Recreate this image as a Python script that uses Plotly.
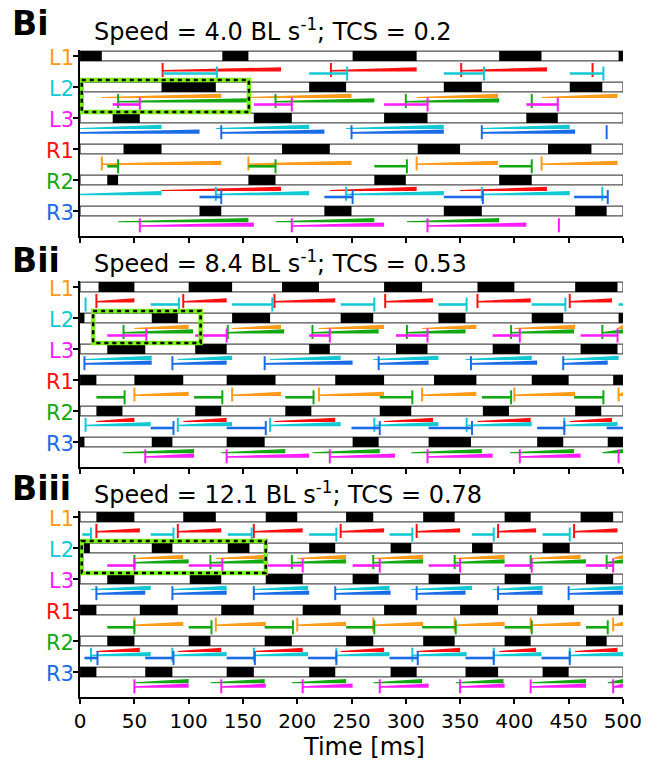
import plotly.graph_objects as go

# ---------------- data ----------------
LEGS = ["L1", "L2", "L3", "R1", "R2", "R3"]
LEG_COLORS = {"L1": "#FF9A1A", "L2": "#12C8D2", "L3": "#FF1AFF",
              "R1": "#FF1010", "R2": "#12A812", "R3": "#1A6BE6"}
PANEL_LABELS = ["Bi", "Bii", "Biii"]
SPEEDS = ["4.0", "8.4", "12.1"]
TCS_VALUES = ["0.2", "0.53", "0.78"]
X_TICKS = [0, 50, 100, 150, 200, 250, 300, 350, 400, 450, 500]
X_LABEL = "Time [ms]"
BOX_SPANS = [(1.5, 155.5), (12, 111), (1.5, 171)]

# black bar intervals (ms) per leg
BI_SWING = {
    "L1": [(0, 20), (131, 155), (251, 310), (386, 425), (496, 500)],
    "L2": [(75, 125), (211, 245), (335, 370), (451, 481)],
    "L3": [(30, 55), (160, 195), (280, 320), (411, 440)],
    "R1": [(40, 75), (186, 230), (311, 350), (431, 471)],
    "R2": [(25, 35), (155, 180), (271, 300), (386, 416)],
    "R3": [(110, 130), (225, 250), (335, 370), (456, 485)],
}
BII_SWING = {
    "L1": [(17, 50), (100, 140), (186, 220), (280, 315), (366, 400), (456, 495)],
    "L2": [(0, 4), (66, 90), (140, 175), (240, 270), (330, 355), (416, 445), (496, 500)],
    "L3": [(25, 60), (106, 135), (211, 230), (291, 320), (380, 405), (461, 495)],
    "R1": [(0, 15), (50, 95), (135, 180), (235, 280), (326, 365), (416, 450), (491, 500)],
    "R2": [(15, 39), (106, 130), (189, 213), (276, 305), (371, 395), (456, 480)],
    "R3": [(0, 4), (66, 85), (135, 170), (251, 275), (321, 360), (421, 445), (486, 500)],
}
BIII_SWING = {
    "L1": [(15, 50), (95, 125), (171, 200), (245, 270), (316, 345), (391, 415), (461, 491)],
    "L2": [(0, 9), (66, 85), (136, 156), (211, 235), (286, 305), (361, 380), (426, 451)],
    "L3": [(25, 50), (101, 130), (171, 205), (251, 275), (321, 350), (391, 415), (466, 491)],
    "R1": [(0, 15), (55, 90), (130, 160), (205, 240), (280, 310), (350, 385), (421, 455), (496, 500)],
    "R2": [(25, 50), (100, 120), (170, 195), (245, 270), (316, 345), (391, 415), (466, 485)],
    "R3": [(0, 15), (60, 85), (135, 160), (211, 235), (286, 310), (355, 385), (426, 450)],
}

# coloured interval lines between the bar rows (ms)
BI_LINES = {
    "g1_R1": [(76, 185), (231, 310), (351, 430), (472, 472)],
    "g1_L2": [(76, 126), (211, 246), (335, 372), (451, 482)],
    "g2_L1": [(20, 130), (155, 250), (310, 385), (425, 495)],
    "g2_R2": [(35, 155), (180, 271), (300, 386), (416, 416)],
    "g2_L3": [(30, 55), (160, 195), (280, 320), (411, 440)],
    "g3_L2": [(0, 75), (125, 211), (245, 335), (370, 451)],
    "g3_R3": [(0, 110), (130, 225), (250, 335), (370, 456), (485, 485)],
    "g4_L1": [(20, 130), (155, 250), (310, 385), (425, 495)],
    "g4_R2": [(25, 35), (155, 180), (271, 301), (386, 416)],
    "g5_R1": [(75, 185), (230, 310), (350, 430)],
    "g5_L2": [(0, 75), (125, 211), (245, 335), (370, 451), (481, 481)],
    "g5_R3": [(110, 130), (225, 251), (335, 371), (455, 486)],
    "g6_R2": [(35, 155), (180, 271), (301, 386)],
    "g6_L3": [(55, 160), (195, 280), (320, 411), (441, 441)],
}
BII_LINES = {
    "g1_R1": [(15, 50), (95, 135), (179, 235), (281, 325), (366, 415), (451, 490)],
    "g1_L2": [(5, 5), (65, 91), (140, 177), (240, 271), (330, 356), (416, 447), (496, 500)],
    "g2_L1": [(50, 100), (140, 185), (220, 280), (315, 365), (400, 456), (495, 500)],
    "g2_R2": [(40, 104), (136, 188), (214, 275), (301, 355), (397, 455), (481, 500)],
    "g2_L3": [(25, 61), (106, 135), (211, 230), (291, 320), (380, 405), (461, 495)],
    "g3_L2": [(4, 66), (90, 140), (175, 240), (270, 330), (355, 416), (445, 496)],
    "g3_R3": [(4, 66), (85, 135), (170, 251), (275, 321), (360, 421), (445, 486)],
    "g4_L1": [(50, 100), (140, 185), (220, 280), (315, 365), (400, 456), (496, 500)],
    "g4_R2": [(15, 41), (105, 131), (189, 215), (276, 306), (370, 397), (455, 482)],
    "g5_R1": [(15, 50), (95, 135), (179, 235), (280, 325), (366, 415), (451, 490)],
    "g5_L2": [(5, 65), (90, 140), (175, 240), (271, 330), (356, 416), (446, 495)],
    "g5_R3": [(65, 86), (135, 171), (250, 276), (321, 361), (421, 446), (485, 500)],
    "g6_R2": [(39, 105), (130, 189), (214, 276), (305, 370), (396, 455), (481, 500)],
    "g6_L3": [(60, 105), (135, 211), (230, 290), (320, 380), (405, 461), (496, 496)],
}
BIII_LINES = {
    "g1_R1": [(15, 55), (90, 130), (160, 205), (240, 280), (310, 350), (385, 420), (455, 495)],
    "g1_L2": [(2, 10), (65, 86), (136, 158), (211, 236), (285, 306), (361, 381), (426, 451)],
    "g2_L1": [(50, 95), (125, 171), (200, 245), (270, 316), (345, 391), (415, 461), (491, 500)],
    "g2_R2": [(50, 100), (120, 170), (195, 245), (270, 316), (345, 391), (415, 466), (485, 500)],
    "g2_L3": [(25, 50), (100, 131), (171, 205), (251, 276), (321, 350), (391, 416), (466, 491)],
    "g3_L2": [(10, 65), (85, 135), (160, 210), (235, 285), (305, 361), (380, 426), (451, 500)],
    "g3_R3": [(15, 60), (85, 135), (160, 211), (235, 286), (310, 355), (385, 426), (450, 500)],
    "g4_L1": [(50, 95), (125, 171), (200, 245), (270, 316), (345, 391), (415, 461), (491, 500)],
    "g4_R2": [(25, 50), (100, 121), (170, 196), (245, 271), (315, 346), (391, 416), (466, 486)],
    "g5_R1": [(15, 55), (90, 130), (160, 205), (240, 280), (310, 350), (386, 420), (456, 495)],
    "g5_L2": [(10, 65), (85, 135), (160, 210), (236, 285), (306, 356), (381, 425), (451, 500)],
    "g5_R3": [(4, 16), (60, 86), (135, 161), (210, 236), (285, 311), (355, 381), (425, 451)],
    "g6_R2": [(50, 100), (120, 170), (195, 245), (270, 315), (346, 390), (416, 466), (486, 500)],
    "g6_L3": [(50, 100), (130, 171), (205, 251), (276, 321), (350, 391), (415, 466), (491, 500)],
}

SWINGS = [BI_SWING, BII_SWING, BIII_SWING]
LINES = [BI_LINES, BII_LINES, BIII_LINES]

# ---------------- styling ----------------
W, H = 666, 760
FONT = "DejaVu Sans, Liberation Sans, Arial, sans-serif"
PX = 31.0                      # pixels per row unit
X_LEFT, X_RIGHT = 77, 641
PANEL_TOPS = [50, 281, 511]
PANEL_H = 186
Y_RANGE = [5.806, -0.194]
BAR_W = 0.32

# (key, row above gap, leg, offset px below row centre, style)
SERIES = [
    ("g1_R1", 0, "R1", 14.0, "taper_start"),
    ("g1_L2", 0, "L2", 17.5, "end"),
    ("g2_L1", 1, "L1", 9.5, "taper"),
    ("g2_R2", 1, "R2", 14.0, "taper_start"),
    ("g2_L3", 1, "L3", 17.5, "end"),
    ("g3_L2", 2, "L2", 9.5, "taper"),
    ("g3_R3", 2, "R3", 14.2, "taper_start"),
    ("g4_L1", 3, "L1", 14.5, "taper_start"),
    ("g4_R2", 3, "R2", 17.3, "end"),
    ("g5_R1", 4, "R1", 9.5, "taper"),
    ("g5_L2", 4, "L2", 13.8, "taper_start"),
    ("g5_R3", 4, "R3", 17.0, "end"),
    ("g6_R2", 5, "R2", 9.7, "taper"),
    ("g6_L3", 5, "L3", 14.3, "taper_start"),
]

TITLE_CENTERS = [(23.0, 30.5), (260.5, 261.5), (488.8, 492.5)]

fig = go.Figure()
annotations = []
shapes = []

for i in range(3):
    sfx = "" if i == 0 else str(i + 1)
    xa, ya = "x" + sfx, "y" + sfx
    swing, lines = SWINGS[i], LINES[i]

    # white full-length bars
    fig.add_trace(go.Bar(orientation="h", y=list(range(6)), x=[500] * 6, base=[0] * 6,
                         width=BAR_W, marker=dict(color="white", line=dict(color="#505050", width=1.2)),
                         xaxis=xa, yaxis=ya, hoverinfo="skip", showlegend=False))
    ys, xs, bs = [], [], []
    for k, leg in enumerate(LEGS):
        for a, b in swing[leg]:
            ys.append(k); xs.append(b - a); bs.append(a)
    fig.add_trace(go.Bar(orientation="h", y=ys, x=xs, base=bs, width=BAR_W,
                         marker=dict(color="black", line=dict(width=0)),
                         xaxis=xa, yaxis=ya, hoverinfo="skip", showlegend=False))

    for key, row, leg, off, style in SERIES:
        color = LEG_COLORS[leg]
        c = row + off / PX
        segs = lines[key]
        tick_x = []
        if style.startswith("taper"):
            w0 = 1.0 if style == "taper" else 1.6
            w1 = 4.2
            yb = c + 1.5 / PX
            px_, py_ = [], []
            for a, b in segs:
                if b > a:
                    px_ += [a, b, b, a, a, None]
                    py_ += [yb, yb, yb - w1 / PX, yb - w0 / PX, yb, None]
                if style == "taper_start" and a > 0:
                    tick_x.append(a)
            fig.add_trace(go.Scatter(x=px_, y=py_, mode="lines", fill="toself", fillcolor=color,
                                     line=dict(width=0, color=color), xaxis=xa, yaxis=ya,
                                     hoverinfo="skip", showlegend=False))
        else:
            lx, ly = [], []
            for a, b in segs:
                if b > a:
                    lx += [a, b, None]; ly += [c, c, None]
                if b < 500:
                    tick_x.append(b)
            fig.add_trace(go.Scatter(x=lx, y=ly, mode="lines", line=dict(width=2.6, color=color),
                                     xaxis=xa, yaxis=ya, hoverinfo="skip", showlegend=False))
        if tick_x:
            fig.add_trace(go.Scatter(x=tick_x, y=[c] * len(tick_x), mode="markers",
                                     marker=dict(symbol="line-ns", size=10,
                                                 line=dict(width=2, color=color)),
                                     xaxis=xa, yaxis=ya, hoverinfo="skip", showlegend=False,
                                     cliponaxis=False))

    top = PANEL_TOPS[i]
    dom = [1 - (top + PANEL_H) / H, 1 - top / H]
    fig.layout["xaxis" + sfx] = dict(
        domain=[X_LEFT / W, X_RIGHT / W], range=[0, 500], anchor=ya,
        tickvals=X_TICKS, ticks="outside", ticklen=5, tickwidth=1.5, tickcolor="black",
        showline=True, linewidth=2, linecolor="black", showgrid=False, zeroline=False,
        showticklabels=(i == 2), tickfont=dict(size=20, color="black", family=FONT),
        fixedrange=True)
    fig.layout["yaxis" + sfx] = dict(
        domain=dom, range=Y_RANGE, anchor=xa, tickvals=list(range(6)),
        ticks="outside", ticklen=5, tickwidth=1.5, tickcolor="black",
        showline=True, linewidth=2, linecolor="black", showgrid=False, zeroline=False,
        showticklabels=False, fixedrange=True)

    for k, leg in enumerate(LEGS):
        annotations.append(dict(text=leg, xref="paper", yref=ya, x=72 / W, y=k + 0.05,
                                xanchor="right", yanchor="middle", showarrow=False,
                                borderpad=0,
                                font=dict(size=21, color=LEG_COLORS[leg], family=FONT)))

    lc, sc = TITLE_CENTERS[i]
    annotations.append(dict(text="<b>" + PANEL_LABELS[i] + "</b>", xref="paper", yref="paper",
                            x=5 / W, y=1 - lc / H, xanchor="left", yanchor="middle",
                            showarrow=False, borderpad=0,
                            font=dict(size=33, color="black", family=FONT)))
    annotations.append(dict(text="Speed = " + SPEEDS[i] + " BL s<sup>-1</sup>; TCS = " + TCS_VALUES[i],
                            xref="paper", yref="paper", x=90 / W, y=1 - sc / H,
                            xanchor="left", yanchor="middle", showarrow=False, borderpad=0,
                            font=dict(size=24, color="black", family=FONT)))

    bx0, bx1 = BOX_SPANS[i]
    shapes.append(dict(type="rect", xref=xa, yref=ya, x0=bx0, x1=bx1, y0=0.77, y1=1.81,
                       line=dict(color="#7CF21C", width=4.5), layer="above"))
    shapes.append(dict(type="rect", xref=xa, yref=ya, x0=bx0, x1=bx1, y0=0.77, y1=1.81,
                       line=dict(color="black", width=2.5, dash="4px,4px"), layer="above"))

annotations.append(dict(text=X_LABEL, xref="paper", yref="paper", x=371.5 / W, y=1 - 746.5 / H,
                        xanchor="center", yanchor="middle", showarrow=False, borderpad=0,
                        font=dict(size=24, color="black", family=FONT)))

fig.update_layout(width=W, height=H, autosize=False, margin=dict(l=0, r=0, t=0, b=0, pad=0),
                  paper_bgcolor="white", plot_bgcolor="white", barmode="overlay",
                  showlegend=False, annotations=annotations, shapes=shapes,
                  font=dict(family=FONT, color="black"))

fig.write_html("out.html", config={"displayModeBar": False})
